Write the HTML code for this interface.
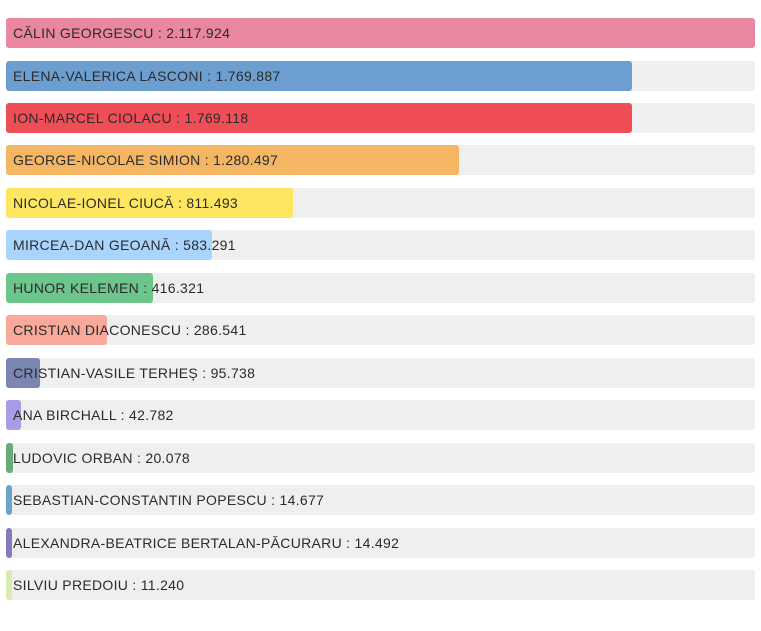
<!DOCTYPE html><html><head><style>
body{margin:0;width:761px;height:631px;background:#fff;font-family:"Liberation Sans","DejaVu Sans",sans-serif;}
.r{position:absolute;left:6px;width:749px;height:30px;background:#efefef;border-radius:3px;}
.b{position:absolute;left:0;top:0;height:30px;border-radius:3px;}
.t{position:absolute;left:7px;top:0;line-height:30px;font-size:14px;letter-spacing:0.3px;color:#2b2b2b;white-space:nowrap;}
</style></head><body>
<script>
var d=[["CĂLIN GEORGESCU",2117924,"#e8879f"],["ELENA-VALERICA LASCONI",1769887,"#6c9fd0"],["ION-MARCEL CIOLACU",1769118,"#f04e56"],["GEORGE-NICOLAE SIMION",1280497,"#f5b664"],["NICOLAE-IONEL CIUCĂ",811493,"#fee660"],["MIRCEA-DAN GEOANĂ",583291,"#a8d4fd"],["HUNOR KELEMEN",416321,"#6cc58a"],["CRISTIAN DIACONESCU",286541,"#f9a99a"],["CRISTIAN-VASILE TERHEȘ",95738,"#7b86b2"],["ANA BIRCHALL",42782,"#a99be6"],["LUDOVIC ORBAN",20078,"#6aaa79"],["SEBASTIAN-CONSTANTIN POPESCU",14677,"#6aa3cc"],["ALEXANDRA-BEATRICE BERTALAN-PĂCURARU",14492,"#8779c0"],["SILVIU PREDOIU",11240,"#d8ebb0"]];
var h="";d.forEach(function(e,i){var w=Math.max(6,e[1]/2117924*749);var n=e[1].toString().replace(/\B(?=(\d{3})+(?!\d))/g,".");
h+='<div class="r" style="top:'+(18+i*42.46).toFixed(1)+'px"><div class="b" style="width:'+w.toFixed(1)+'px;background:'+e[2]+'"></div><div class="t">'+e[0]+' : '+n+'</div></div>';});
document.write(h);
</script>
</body></html>
